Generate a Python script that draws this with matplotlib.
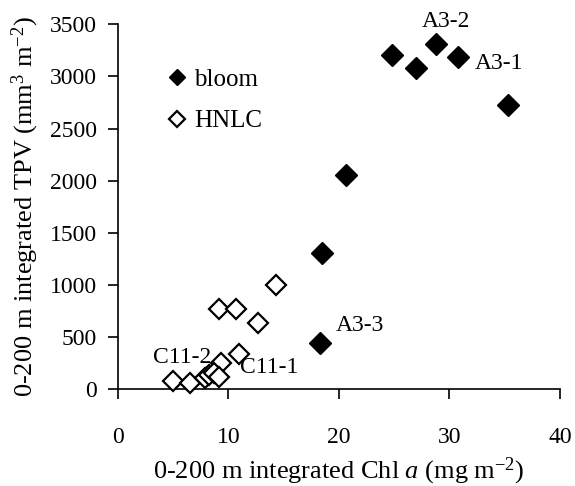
import matplotlib
matplotlib.use("Agg")
import matplotlib.pyplot as plt
from matplotlib.lines import Line2D

# Data
bloom_chl = [24.8, 27.0, 28.8, 30.8, 35.3, 20.6, 18.5, 18.3]
bloom_tpv = [3205, 3080, 3310, 3185, 2725, 2055, 1305, 440]
hnlc_chl = [14.3, 9.2, 10.7, 12.7, 11.0, 9.3, 5.0, 6.5, 7.9, 8.3, 8.7, 9.2]
hnlc_tpv = [1000, 770, 770, 635, 335, 255, 80, 60, 110, 135, 155, 120]
labels = ["A3-2", "A3-1", "A3-3", "C11-2", "C11-1"]
label_xy = [(27.5, 3477), (32.3, 3071), (19.7, 562), (3.2, 249), (11.1, 153)]
xticks = [0, 10, 20, 30, 40]
yticks = [0, 500, 1000, 1500, 2000, 2500, 3000, 3500]

plt.rcParams['font.family'] = ['Liberation Serif', 'DejaVu Serif']
plt.rcParams['mathtext.fontset'] = 'custom'
plt.rcParams['mathtext.rm'] = 'Liberation Serif'
plt.rcParams['mathtext.it'] = 'Liberation Serif:italic'

fig = plt.figure(figsize=(5.75, 4.86), dpi=100)
ax = fig.add_axes([0.2047, 0.199, 0.7693, 0.751])

ax.plot(bloom_chl, bloom_tpv, linestyle='none', marker='D', markersize=11,
        color='black', markeredgecolor='black', clip_on=False, zorder=3)
ax.plot(hnlc_chl, hnlc_tpv, linestyle='none', marker='D', markersize=10,
        markerfacecolor='white', markeredgecolor='black', markeredgewidth=1.6,
        clip_on=False, zorder=3)

for t, (x, y) in zip(labels, label_xy):
    ax.text(x, y, t, fontsize=17, ha='left', va='baseline')

ax.set_xlim(0, 40)
ax.set_ylim(0, 3500)
ax.set_xticks(xticks)
ax.set_yticks(yticks)
ax.tick_params(axis='both', direction='out', length=7, width=1.2,
               labelsize=17, colors='black')
ax.tick_params(axis='x', pad=20)
ax.tick_params(axis='y', pad=8)
for s in ['top', 'right']:
    ax.spines[s].set_visible(False)
for s in ['left', 'bottom']:
    ax.spines[s].set_linewidth(1.2)

ax.set_xlabel(r'0-200 m integrated Chl $\it{a}$ (mg m$^{\mathregular{-2}}$)', fontsize=19, labelpad=6)
ax.set_ylabel(r'0-200 m integrated TPV (mm$^{\mathregular{3}}$ m$^{\mathregular{-2}}$)', fontsize=19, labelpad=6)

handles = [
    Line2D([], [], linestyle='none', marker='D', markersize=8, color='black'),
    Line2D([], [], linestyle='none', marker='D', markersize=8,
           markerfacecolor='white', markeredgecolor='black', markeredgewidth=1.6),
]
ax.legend(handles, ['bloom', 'HNLC'], loc='upper left', bbox_to_anchor=(0.06, 0.94),
          frameon=False, fontsize=18, handlelength=0.8, handletextpad=0.3,
          labelspacing=0.75)

fig.savefig('out.png', dpi=100)
